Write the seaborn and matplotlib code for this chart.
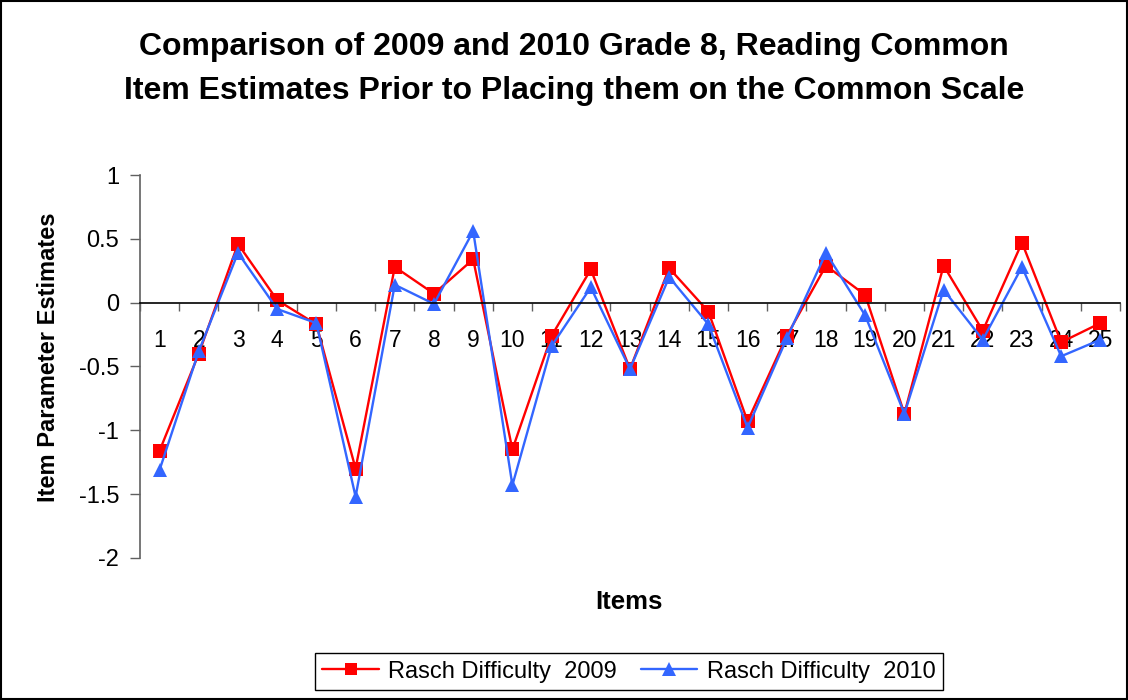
import matplotlib
matplotlib.use("Agg")
import matplotlib.pyplot as plt
import seaborn as sns
import pandas as pd
from matplotlib.patches import Rectangle

# Item numbers and Rasch difficulty estimates
items = list(range(1, 26))
rasch_2009 = [-1.16, -0.40, 0.46, 0.02, -0.17, -1.30, 0.28, 0.07, 0.34, -1.15,
              -0.26, 0.26, -0.52, 0.27, -0.07, -0.93, -0.26, 0.29, 0.06, -0.87,
              0.29, -0.22, 0.47, -0.31, -0.16]
rasch_2010 = [-1.31, -0.38, 0.39, -0.05, -0.16, -1.52, 0.14, -0.01, 0.56, -1.43,
              -0.34, 0.12, -0.52, 0.20, -0.17, -0.98, -0.28, 0.39, -0.10, -0.87,
              0.10, -0.29, 0.28, -0.42, -0.29]

series_names = ["Rasch Difficulty  2009", "Rasch Difficulty  2010"]
y_ticks = [1, 0.5, 0, -0.5, -1, -1.5, -2]
y_tick_labels = ["1", "0.5", "0", "-0.5", "-1", "-1.5", "-2"]

title_text = ("Comparison of 2009 and 2010 Grade 8, Reading Common\n"
              "Item Estimates Prior to Placing them on the Common Scale")

df = pd.DataFrame({
    "Item": items * 2,
    "Estimate": rasch_2009 + rasch_2010,
    "Series": [series_names[0]] * len(items) + [series_names[1]] * len(items),
})

sns.set_style("white")
plt.rcParams["font.family"] = ["Liberation Sans", "DejaVu Sans"]
plt.rcParams["text.color"] = "black"
plt.rcParams["axes.labelcolor"] = "black"
plt.rcParams["xtick.color"] = "black"
plt.rcParams["ytick.color"] = "black"

fig = plt.figure(figsize=(11.28, 7.0), dpi=100)
ax = fig.add_axes([0.1241, 0.2029, 0.8688, 0.5471])

sns.lineplot(data=df, x="Item", y="Estimate", hue="Series", style="Series",
             palette=["#FF0000", "#3366FF"], markers=["s", "^"], dashes=False,
             markersize=10, markeredgewidth=0, linewidth=1.7, ax=ax, legend=False)

ax.set_xlim(0.5, 25.5)
ax.set_ylim(-2, 1)

# y axis
ax.set_yticks(y_ticks)
ax.set_yticklabels(y_tick_labels, fontsize=17)
ax.tick_params(axis="y", direction="out", length=7, width=1, color="#606060",
               labelcolor="black", left=True, pad=8)

# x axis crossing at zero, category tick marks between items
ax.spines["bottom"].set_position(("data", 0))
ax.spines["bottom"].set_color("black")
ax.spines["bottom"].set_linewidth(1.2)
ax.spines["left"].set_color("#606060")
ax.spines["left"].set_linewidth(1.2)
ax.spines["top"].set_visible(False)
ax.spines["right"].set_visible(False)

ax.set_xticks(items)
ax.set_xticklabels([str(i) for i in items], fontsize=16.5)
ax.tick_params(axis="x", which="major", length=0, pad=19, labelcolor="black")
ax.set_xticks([i + 0.5 for i in range(0, 26)], minor=True)
ax.tick_params(axis="x", which="minor", direction="out", length=6, width=1,
               color="#606060", bottom=True)

ax.set_xlabel("")
ax.set_ylabel("")
fig.text(0.0426, 0.49, "Item Parameter Estimates", rotation=90, ha="center",
         va="center", fontsize=17, fontweight="bold")
fig.text(0.558, 0.14, "Items", ha="center", va="center", fontsize=18.5,
         fontweight="bold")

fig.text(0.509, 0.902, title_text, ha="center", va="center", fontsize=23,
         fontweight="bold", linespacing=1.6)

# legend
handles = [
    plt.Line2D([], [], color="#FF0000", marker="s", markersize=9,
               markeredgewidth=0, linewidth=1.7),
    plt.Line2D([], [], color="#3366FF", marker="^", markersize=10,
               markeredgewidth=0, linewidth=1.7),
]
leg = fig.legend(handles, series_names, loc="center",
                 bbox_to_anchor=(0.5576, 0.0407), ncol=2, fontsize=17,
                 frameon=True, fancybox=False, framealpha=1,
                 edgecolor="black", borderpad=0.3, handlelength=2.4,
                 columnspacing=1.0, handletextpad=0.4)
leg.get_frame().set_linewidth(1.0)

# figure border
fig.patches.append(Rectangle((0.001, 0.001), 0.998, 0.998,
                             transform=fig.transFigure, fill=False,
                             edgecolor="black", linewidth=1.5))

fig.savefig("out.png", dpi=100)
